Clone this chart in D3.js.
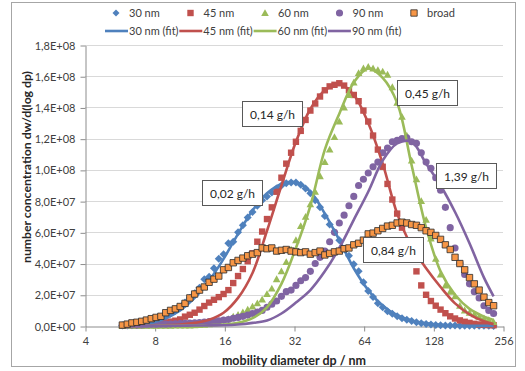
<!DOCTYPE html>
<html>
<head>
<meta charset="utf-8">
<script src="https://cdn.jsdelivr.net/npm/d3@7"></script>
<style>
  body { margin: 0; background: #fff; }
  svg { display: block; font-family: Lato, "Liberation Sans", sans-serif; }
</style>
</head>
<body>
<script>
const width = 525;
const height = 371;

// mobility diameter channels (nm)
const diameters = [5.80, 6.09, 6.38, 6.70, 7.03, 7.37, 7.73, 8.11, 8.51, 8.93,
  9.37, 9.83, 10.31, 10.82, 11.35, 11.91, 12.50, 13.11, 13.75, 14.43,
  15.14, 15.88, 16.66, 17.48, 18.34, 19.24, 20.19, 21.18, 22.22, 23.31,
  24.46, 25.66, 26.92, 28.24, 29.63, 31.09, 32.62, 34.22, 35.90, 37.66,
  39.52, 41.46, 43.49, 45.63, 47.87, 50.23, 52.69, 55.28, 58.00, 60.85,
  63.84, 66.98, 70.27, 73.72, 77.34, 81.14, 85.13, 89.31, 93.70, 98.31,
  103.14, 108.21, 113.53, 119.11, 124.96, 131.10, 137.55, 144.31, 151.40, 158.84,
  166.65, 174.84, 183.43, 192.44, 201.90, 211.82, 222.23, 233.15];

// measured values, in 1e7 units
const s30 = [0.03, 0.04, 0.05, 0.07, 0.1, 0.15, 0.22, 0.32, 0.43, 0.6,
  0.78, 0.98, 1.22, 1.5, 1.8, 2.1, 2.45, 3.0, 3.15, 3.7,
  4.3, 4.6, 5.3, 5.4, 6.0, 6.45, 6.95, 7.3, 7.7, 8.05,
  8.3, 8.55, 8.8, 9.0, 9.15, 9.2, 9.2, 9.05, 8.8, 8.5,
  8.05, 7.6, 7.05, 6.5, 6.0, 5.5, 4.95, 4.5, 3.95, 3.5,
  2.8, 2.25, 1.85, 1.45, 1.2, 0.95, 0.78, 0.62, 0.5, 0.4,
  0.32, 0.24, 0.18, 0.13, 0.1, 0.07, 0.05, 0.04, 0.03, 0.03,
  0.02, 0.02, 0.01, 0.01, 0.01, 0.01, 0.01, 0.0];
const s45 = [0.02, 0.03, 0.04, 0.05, 0.06, 0.08, 0.1, 0.13, 0.17, 0.22, 0.28, 0.34, 0.42,
  0.6, 0.72, 0.85, 1.05, 1.28, 1.5, 1.68, 1.85, 2.05, 2.3, 2.75, 3.2, 3.65,
  4.15, 4.65, 5.4, 6.05, 6.85, 7.6, 8.6, 9.5, 10.4, 11.1, 11.8, 12.5, 13.2,
  13.8, 14.25, 14.7, 15.1, 15.35, 15.45, 15.55, 15.4, 15.1, 14.8, 14.4, 13.8, 13.1,
  12.2, 11.3, 10.2, 9.1, 8.1, 7.2, 6.3, 5.4, 4.5, 3.5, 2.6, 2.0, 1.6,
  1.3, 1.05, 0.82, 0.62, 0.48, 0.36, 0.27, 0.2, 0.14, 0.1, 0.08, 0.06, 0.05];
const s60 = [0, 0, 0, 0.01, 0.01, 0.01, 0.01, 0.01, 0.02, 0.02, 0.02, 0.03, 0.03,
  0.03, 0.04, 0.05, 0.06, 0.08, 0.12, 0.18, 0.25, 0.35, 0.45, 0.6, 0.72, 0.88,
  1.05, 1.25, 1.45, 1.7, 2.05, 2.4, 3.0, 3.5, 4.1, 4.9, 5.5, 6.4, 7.0,
  7.8, 8.6, 9.6, 10.5, 11.3, 12.1, 13.1, 14.0, 14.8, 15.6, 16.2, 16.5, 16.6,
  16.5, 16.4, 16.3, 16.1, 15.3, 14.3, 13.4, 12.2, 10.6, 9.4, 8.0, 6.8, 5.6,
  4.3, 3.3, 2.6, 2.2, 1.9, 1.3, 1.0, 0.85, 0.75, 0.6, 0.5, 0.38, 0.25];
const s90 = [0.05, 0.05, 0.06, 0.06, 0.07, 0.08, 0.09, 0.1, 0.11, 0.12, 0.13, 0.14, 0.15,
  0.17, 0.19, 0.2, 0.22, 0.25, 0.28, 0.3, 0.33, 0.38, 0.42, 0.5, 0.55, 0.62,
  0.7, 0.8, 0.9, 1.0, 1.2, 1.4, 1.6, 1.9, 2.2, 2.3, 2.6, 2.9, 3.1,
  3.5, 4.0, 4.4, 4.8, 5.4, 6.0, 6.6, 7.1, 7.7, 8.3, 9.0, 9.4, 9.8,
  10.2, 10.5, 11.1, 11.4, 11.8, 11.9, 12.0, 12.05, 11.8, 11.7, 11.1, 10.5, 10.1,
  9.5, 8.7, 7.6, 6.3, 5.0, 4.0, 3.3, 2.7, 2.2, 1.8, 1.3, 1.0, 0.8];
const broad = [0.06, 0.12, 0.2, 0.24, 0.3, 0.38, 0.47, 0.55, 0.62, 0.85, 1.0, 1.1, 1.25,
  1.45, 1.8, 2.05, 2.3, 2.5, 2.8, 3.0, 3.2, 3.6, 3.75, 4.05, 4.2, 4.35,
  4.5, 4.6, 4.7, 5.0, 4.95, 5.0, 4.8, 4.85, 4.9, 4.8, 4.75, 4.7, 4.75,
  4.6, 4.7, 4.8, 4.55, 4.65, 4.75, 4.8, 4.95, 5.0, 5.2, 5.3, 5.5, 5.9,
  5.95, 6.1, 6.25, 6.4, 6.45, 6.6, 6.65, 6.6, 6.5, 6.45, 6.3, 6.1, 6.0,
  5.8, 5.55, 5.2, 4.9, 4.4, 4.0, 3.6, 3.1, 2.7, 2.3, 1.85, 1.5, 1.3];

// fitted curves
const fitDiameters = [5.80, 6.70, 7.73, 8.93, 10.31, 11.91, 13.75, 15.88, 18.34, 21.18,
  24.46, 28.24, 32.62, 37.66, 43.49, 50.23, 58.00, 66.98, 77.34, 89.31,
  103.14, 119.11, 137.55, 158.84, 183.43, 211.82, 233.15];
const fit30 = [0.03, 0.08, 0.2, 0.5, 1.0, 1.8, 2.9, 4.3, 5.9, 7.4,
  8.5, 9.1, 9.2, 8.6, 7.2, 5.5, 3.7, 2.3, 1.3, 0.7,
  0.35, 0.17, 0.08, 0.04, 0.02, 0.01, 0.0];
const fit45 = [0.0, 0.01, 0.02, 0.05, 0.1, 0.2, 0.4, 0.85, 1.8, 3.4,
  6.1, 9.0, 11.8, 13.9, 15.1, 15.5, 14.8, 13.0, 10.4, 7.2,
  5.1, 3.7, 2.5, 1.45, 0.75, 0.3, 0.12];
const fit60 = [0, 0, 0, 0.01, 0.02, 0.03, 0.05, 0.08, 0.2, 0.5,
  1.2, 2.7, 5.0, 7.7, 11.3, 13.6, 15.6, 16.5, 15.9, 14.3,
  10.3, 6.3, 3.5, 2.0, 1.1, 0.6, 0.38];
const fit90 = [0, 0, 0.01, 0.01, 0.02, 0.03, 0.04, 0.05, 0.1, 0.2,
  0.35, 0.8, 1.5, 2.3, 3.5, 5.0, 6.8, 8.6, 10.6, 11.7,
  11.8, 10.4, 9.0, 7.3, 5.3, 3.1, 1.9];

const yTicks = [0, 2e7, 4e7, 6e7, 8e7, 1e8, 1.2e8, 1.4e8, 1.6e8, 1.8e8];
const xTicks = [4, 8, 16, 32, 64, 128, 256];

const annotations = [
  { text: "0,02 g/h", d: 17.2, v: 8.55e7 },
  { text: "0,14 g/h", d: 25.7, v: 13.55e7 },
  { text: "0,45 g/h", d: 120, v: 14.9e7 },
  { text: "1,39 g/h", d: 178, v: 9.64e7 },
  { text: "0,84 g/h", d: 85.7, v: 4.84e7 }
];

const blue = "#4F81BD", red = "#C0504D", green = "#9BBB59", purple = "#8064A2", orange = "#F79646";

const markerSeries = [
  { name: "30 nm", values: s30, color: blue, shape: "diamond" },
  { name: "45 nm", values: s45, color: red, shape: "square" },
  { name: "60 nm", values: s60, color: green, shape: "triangle" },
  { name: "90 nm", values: s90, color: purple, shape: "circle" }
];
const broadSeries = { name: "broad", values: broad, color: orange, shape: "osquare" };
const fitSeries = [
  { name: "30 nm (fit)", values: fit30, color: blue },
  { name: "45 nm (fit)", values: fit45, color: red },
  { name: "60 nm (fit)", values: fit60, color: green },
  { name: "90 nm (fit)", values: fit90, color: purple }
];

const svg = d3.select("body").append("svg")
  .attr("width", width)
  .attr("height", height);

// chart frame
svg.append("rect")
  .attr("x", 11.5).attr("y", 2.5)
  .attr("width", 504).attr("height", 364)
  .attr("fill", "#fff")
  .attr("stroke", "#a6a6a6");

const x = d3.scaleLog().base(2).domain([4, 256]).range([85, 503]);
const y = d3.scaleLinear().domain([0, 1.8e8]).range([326, 45]);

function fmtE(v) {
  if (v === 0) return "0,0E+00";
  const e = Math.floor(Math.log10(v) + 1e-9);
  const m = v / Math.pow(10, e);
  return m.toFixed(1).replace(".", ",") + "E+" + String(e).padStart(2, "0");
}

// gridlines
svg.append("g")
  .selectAll("line")
  .data(yTicks.filter(d => d > 0))
  .join("line")
  .attr("x1", 85).attr("x2", 503)
  .attr("y1", d => Math.round(y(d)) + 0.5)
  .attr("y2", d => Math.round(y(d)) + 0.5)
  .attr("stroke", "#d9d9d9");

// axes
const yAxis = svg.append("g")
  .attr("transform", "translate(85.5,0.5)")
  .call(d3.axisLeft(y).tickValues(yTicks).tickFormat(fmtE).tickSize(5).tickSizeOuter(0).tickPadding(5));
const xAxis = svg.append("g")
  .attr("transform", "translate(0.5,326.5)")
  .call(d3.axisBottom(x).tickValues(xTicks).tickFormat(d3.format("d")).tickSize(5).tickSizeOuter(0).tickPadding(6));
[yAxis, xAxis].forEach(g => {
  g.select(".domain").attr("stroke", "#8c8c8c");
  g.selectAll(".tick line").attr("stroke", "#8c8c8c");
  g.selectAll(".tick text").attr("fill", "#404040").style("font-size", "11px")
    .style("font-family", 'Lato, "Liberation Sans", sans-serif');
});

// axis titles
svg.append("text")
  .attr("transform", "translate(31,167) rotate(-90)")
  .attr("text-anchor", "middle")
  .attr("font-size", 12).attr("font-weight", "bold").attr("fill", "#262626")
  .attr("textLength", 192).attr("lengthAdjust", "spacingAndGlyphs")
  .text("number concentration dw/d(log dp)");
svg.append("text")
  .attr("x", 294).attr("y", 365)
  .attr("text-anchor", "middle")
  .attr("font-size", 12.5).attr("font-weight", "bold").attr("fill", "#262626")
  .text("mobility diameter dp / nm");

// marker shapes
function shapePath(shape) {
  if (shape === "diamond") return "M0,-4L4,0L0,4L-4,0Z";
  if (shape === "square" || shape === "osquare") return "M-3.2,-3.2H3.2V3.2H-3.2Z";
  if (shape === "triangle") return "M0,-3.8L3.8,3H-3.8Z";
  return d3.symbol(d3.symbolCircle, 40)();
}

function drawMarkers(s) {
  const pts = s.values.map((v, i) => [diameters[i], v * 1e7]);
  svg.append("g")
    .selectAll("path")
    .data(pts)
    .join("path")
    .attr("transform", d => `translate(${x(d[0])},${y(d[1])})`)
    .attr("d", shapePath(s.shape))
    .attr("fill", s.color)
    .attr("stroke", s.shape === "osquare" ? "#2b2b2b" : "none")
    .attr("stroke-width", 0.8);
}

const line = d3.line()
  .x(d => x(d[0]))
  .y(d => y(d[1]))
  .curve(d3.curveCatmullRom);

markerSeries.forEach(drawMarkers);

fitSeries.forEach(s => {
  svg.append("path")
    .datum(s.values.map((v, i) => [fitDiameters[i], v * 1e7]))
    .attr("d", line)
    .attr("fill", "none")
    .attr("stroke", s.color)
    .attr("stroke-width", 2.6);
});

drawMarkers(broadSeries);

// annotation boxes
const ann = svg.append("g")
  .selectAll("g")
  .data(annotations)
  .join("g")
  .attr("transform", d => `translate(${Math.round(x(d.d))},${Math.round(y(d.v))})`);
ann.append("rect")
  .attr("x", -29.5).attr("y", -12.5)
  .attr("width", 60).attr("height", 25)
  .attr("fill", "#fff")
  .attr("stroke", "#595959");
ann.append("text")
  .attr("x", 0.5).attr("y", 4.5)
  .attr("text-anchor", "middle")
  .attr("font-size", 12).attr("fill", "#262626")
  .text(d => d.text);

// legend
const legend = svg.append("g").attr("font-size", 11).attr("fill", "#404040");
const row1 = legend.selectAll("g.m")
  .data(markerSeries.concat([broadSeries]))
  .join("g")
  .attr("class", "m")
  .attr("transform", (d, i) => `translate(${116 + i * 74.5},13)`);
row1.append("path")
  .attr("d", d => d.shape === "diamond" ? "M0,-3.5L3.5,0L0,3.5L-3.5,0Z" : shapePath(d.shape))
  .attr("fill", d => d.color)
  .attr("stroke", d => d.shape === "osquare" ? "#2b2b2b" : "none")
  .attr("stroke-width", 0.8);
row1.append("text")
  .attr("x", 13).attr("y", 4)
  .text(d => d.name);

const row2 = legend.selectAll("g.f")
  .data(fitSeries)
  .join("g")
  .attr("class", "f")
  .attr("transform", (d, i) => `translate(${105 + i * 74.3},31)`);
row2.append("line")
  .attr("x1", 0).attr("x2", 23)
  .attr("stroke", d => d.color)
  .attr("stroke-width", 2.6);
row2.append("text")
  .attr("x", 24).attr("y", 4)
  .text(d => d.name);
</script>
</body>
</html>
